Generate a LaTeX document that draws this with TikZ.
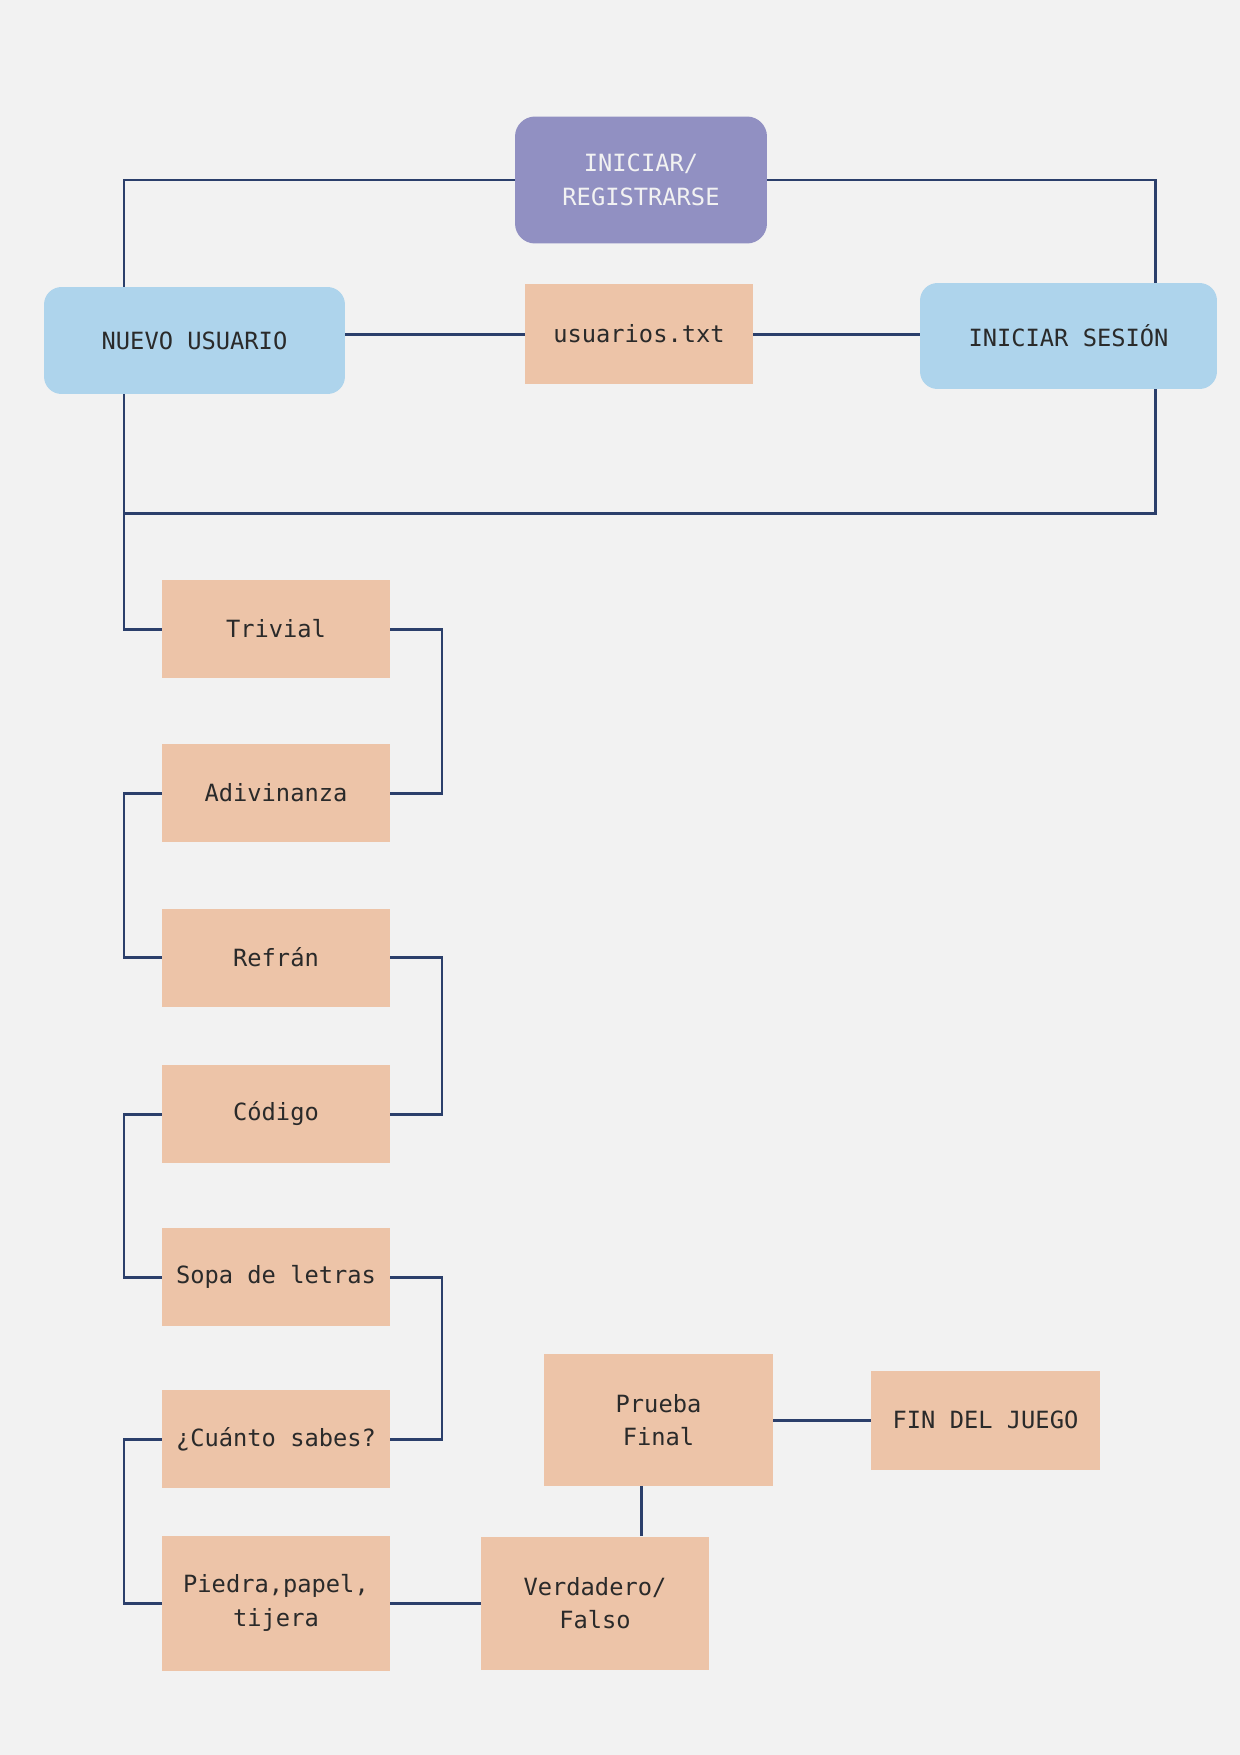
\documentclass[tikz,border=0pt]{standalone}
\usepackage{fontspec}
\setmainfont{DejaVu Sans Mono}
\definecolor{bgc}{HTML}{F2F2F2}
\definecolor{lila}{HTML}{9190C2}
\definecolor{celeste}{HTML}{AED4EC}
\definecolor{salmon}{HTML}{EDC4A8}
\definecolor{navy}{HTML}{2B3F6B}
\definecolor{ink}{HTML}{2A2A2A}
\begin{document}
\begin{tikzpicture}[x=0.02cm,y=-0.02cm,
  link/.style={draw=navy,line width=1.7pt},
  box/.style={fill=salmon,text=ink,align=center,minimum width=4.56cm,minimum height=1.96cm,
    font=\fontsize{13.5}{19}\selectfont},
  usr/.style={box,fill=celeste,rounded corners=0.35cm},
  top/.style={box,fill=lila,text=bgc,rounded corners=0.4cm}]

% fondo
\fill[bgc] (0,0) rectangle (1240,1755);
\useasboundingbox (0,0) rectangle (1240,1755);

% acceso
\node[top,minimum width=5.04cm,minimum height=2.54cm] (reg) at (641,180) {INICIAR/\\REGISTRARSE};
\node[usr,minimum width=6.02cm,minimum height=2.14cm] (nuevo) at (194.5,340.5) {NUEVO USUARIO};
\node[box,minimum height=2cm] (txt) at (639,334) {usuarios.txt};
\node[usr,minimum width=5.94cm,minimum height=2.12cm] (sesion) at (1068.5,336) {INICIAR SESIÓN};

\coordinate (lx) at (124,0);
\coordinate (rx) at (1155,0);
\coordinate (rc) at (442,0);
\coordinate (vx) at (641,0);
\coordinate (jn) at (124,513);

% juegos
\node[box] (trivial) at (276,629) {Trivial};
\node[box] (adiv) at (276,793) {Adivinanza};
\node[box] (refran) at (276,957.5) {Refrán};
\node[box] (codigo) at (276,1114) {Código};
\node[box] (sopa) at (276,1277) {Sopa de letras};
\node[box] (cuanto) at (276,1439) {¿Cuánto sabes?};
\node[box,minimum height=2.7cm] (piedra) at (276,1603) {Piedra,papel,\\tijera};
\node[box,minimum height=2.66cm] (verdad) at (595,1603) {Verdadero/\\Falso};
\node[box,minimum width=4.58cm,minimum height=2.64cm] (prueba) at (658.5,1420) {Prueba\\Final};
\node[box,minimum width=4.58cm,minimum height=1.98cm] (fin) at (985.5,1420) {FIN DEL JUEGO};

% conexiones
\draw[link] (reg.west) -| (nuevo.north -| lx);
\draw[link] (reg.east) -| (sesion.north -| rx);
\draw[link] (txt.west) -- (txt.west -| nuevo.east);
\draw[link] (txt.east) -- (txt.east -| sesion.west);
\draw[link] (nuevo.south -| lx) |- (trivial.west);
\draw[link] (sesion.south -| rx) |- (jn);
\draw[link] (trivial.east) -- (trivial.east -| rc) |- (adiv.east);
\draw[link] (adiv.west) -- (adiv.west -| lx) |- (refran.west);
\draw[link] (refran.east) -- (refran.east -| rc) |- (codigo.east);
\draw[link] (codigo.west) -- (codigo.west -| lx) |- (sopa.west);
\draw[link] (sopa.east) -- (sopa.east -| rc) |- (cuanto.east);
\draw[link] (cuanto.west) -- (cuanto.west -| lx) |- (piedra.west);
\draw[link] (piedra) -- (verdad);
\draw[link] (verdad.north -| vx) -- (prueba.south -| vx);
\draw[link] (prueba) -- (fin);

\end{tikzpicture}
\end{document}
